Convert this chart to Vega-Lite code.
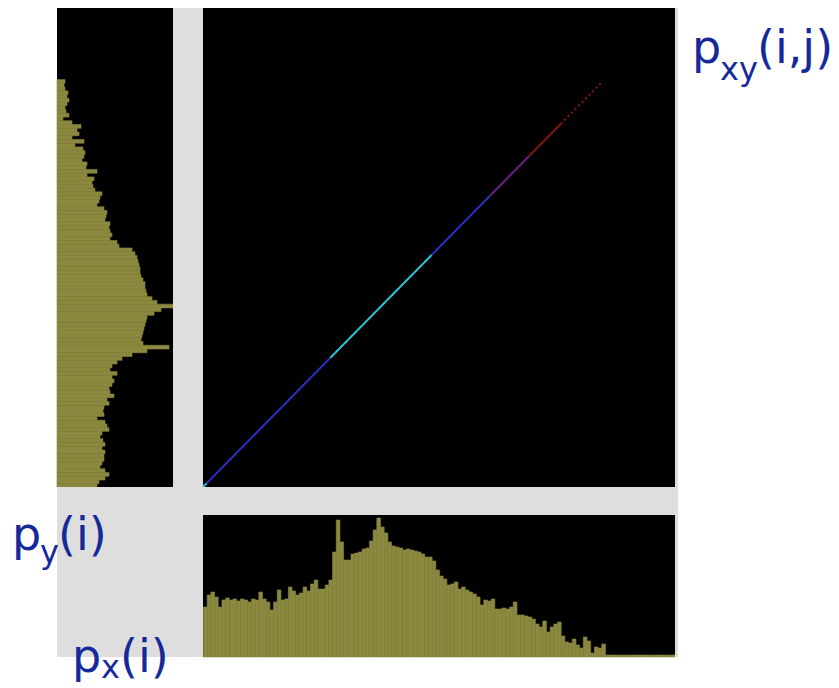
{
  "$schema": "https://vega.github.io/schema/vega-lite/v6.json",
  "background": "white",
  "padding": {"left": 12, "top": 8, "right": 0, "bottom": 12},
  "columns": 4,
  "spacing": 0,
  "bounds": "flush",
  "config": {"view": {"stroke": null}, "concat": {"spacing": 0}},
  "datasets": {
    "py": [
      {"j":0,"n":40},{"j":2,"n":42},{"j":4,"n":48},{"j":6,"n":52},{"j":8,"n":48},{"j":10,"n":43},{"j":12,"n":45},{"j":14,"n":47},
      {"j":16,"n":47},{"j":18,"n":48},{"j":20,"n":45},{"j":22,"n":48},{"j":24,"n":46},{"j":26,"n":43},{"j":28,"n":45},{"j":30,"n":52},
      {"j":32,"n":50},{"j":34,"n":48},{"j":36,"n":40},{"j":38,"n":47},{"j":40,"n":46},{"j":42,"n":47},{"j":44,"n":52},{"j":46,"n":50},
      {"j":48,"n":57},{"j":50,"n":53},{"j":52,"n":52},{"j":54,"n":55},{"j":56,"n":57},{"j":58,"n":55},{"j":60,"n":60},{"j":62,"n":53},
      {"j":64,"n":55},{"j":66,"n":60},{"j":68,"n":65},{"j":70,"n":75},{"j":72,"n":90},{"j":74,"n":112},{"j":76,"n":86},{"j":78,"n":84},
      {"j":80,"n":85},{"j":82,"n":86},{"j":84,"n":87},{"j":86,"n":88},{"j":88,"n":89},{"j":90,"n":90},{"j":92,"n":97},{"j":94,"n":104},
      {"j":96,"n":116},{"j":98,"n":100},{"j":100,"n":95},{"j":102,"n":90},{"j":104,"n":89},{"j":106,"n":88},{"j":108,"n":88},{"j":110,"n":86},
      {"j":112,"n":84},{"j":114,"n":83},{"j":116,"n":83},{"j":118,"n":82},{"j":120,"n":81},{"j":122,"n":80},{"j":124,"n":78},{"j":126,"n":75},
      {"j":128,"n":62},{"j":130,"n":60},{"j":132,"n":53},{"j":134,"n":55},{"j":136,"n":53},{"j":138,"n":52},{"j":140,"n":53},{"j":142,"n":48},
      {"j":144,"n":49},{"j":146,"n":50},{"j":148,"n":47},{"j":150,"n":40},{"j":152,"n":42},{"j":154,"n":43},{"j":156,"n":45},{"j":158,"n":38},
      {"j":160,"n":36},{"j":162,"n":35},{"j":164,"n":37},{"j":166,"n":30},{"j":168,"n":40},{"j":170,"n":29},{"j":172,"n":30},{"j":174,"n":25},
      {"j":176,"n":27},{"j":178,"n":28},{"j":180,"n":26},{"j":182,"n":18},{"j":184,"n":27},{"j":186,"n":15},{"j":188,"n":22},{"j":190,"n":20},
      {"j":192,"n":24},{"j":194,"n":15},{"j":196,"n":6},{"j":198,"n":12},{"j":200,"n":9},{"j":202,"n":8},{"j":204,"n":10},{"j":206,"n":12},
      {"j":208,"n":10},{"j":210,"n":11},{"j":212,"n":8},{"j":214,"n":7},{"j":216,"n":8}
    ],
    "px": [
      {"i":0,"n":50},{"i":2,"n":62},{"i":4,"n":65},{"i":6,"n":60},{"i":8,"n":50},{"i":10,"n":57},{"i":12,"n":59},{"i":14,"n":57},
      {"i":16,"n":58},{"i":18,"n":56},{"i":20,"n":58},{"i":22,"n":57},{"i":24,"n":55},{"i":26,"n":58},{"i":28,"n":57},{"i":30,"n":65},
      {"i":32,"n":58},{"i":34,"n":55},{"i":36,"n":47},{"i":38,"n":55},{"i":40,"n":67},{"i":42,"n":57},{"i":44,"n":58},{"i":46,"n":70},
      {"i":48,"n":66},{"i":50,"n":62},{"i":52,"n":64},{"i":54,"n":70},{"i":56,"n":66},{"i":58,"n":73},{"i":60,"n":77},{"i":62,"n":68},
      {"i":64,"n":68},{"i":66,"n":72},{"i":68,"n":77},{"i":70,"n":105},{"i":72,"n":137},{"i":74,"n":115},{"i":76,"n":97},{"i":78,"n":97},
      {"i":80,"n":103},{"i":82,"n":104},{"i":84,"n":105},{"i":86,"n":108},{"i":88,"n":109},{"i":90,"n":116},{"i":92,"n":127},{"i":94,"n":139},
      {"i":96,"n":130},{"i":98,"n":124},{"i":100,"n":115},{"i":102,"n":111},{"i":104,"n":110},{"i":106,"n":109},{"i":108,"n":107},{"i":110,"n":108},
      {"i":112,"n":107},{"i":114,"n":106},{"i":116,"n":105},{"i":118,"n":103},{"i":120,"n":100},{"i":122,"n":100},{"i":124,"n":96},{"i":126,"n":87},
      {"i":128,"n":81},{"i":130,"n":78},{"i":132,"n":72},{"i":134,"n":73},{"i":136,"n":75},{"i":138,"n":68},{"i":140,"n":70},{"i":142,"n":67},
      {"i":144,"n":65},{"i":146,"n":63},{"i":148,"n":60},{"i":150,"n":52},{"i":152,"n":57},{"i":154,"n":56},{"i":156,"n":58},{"i":158,"n":48},
      {"i":160,"n":48},{"i":162,"n":49},{"i":164,"n":48},{"i":166,"n":50},{"i":168,"n":55},{"i":170,"n":42},{"i":172,"n":42},{"i":174,"n":41},
      {"i":176,"n":40},{"i":178,"n":38},{"i":180,"n":33},{"i":182,"n":30},{"i":184,"n":36},{"i":186,"n":25},{"i":188,"n":30},{"i":190,"n":33},
      {"i":192,"n":35},{"i":194,"n":21},{"i":196,"n":15},{"i":198,"n":14},{"i":200,"n":18},{"i":202,"n":12},{"i":204,"n":9},{"i":206,"n":20},
      {"i":208,"n":16},{"i":210,"n":4},{"i":212,"n":10},{"i":214,"n":9},{"i":216,"n":13},{"i":218,"n":2},{"i":220,"n":2},{"i":222,"n":2},
      {"i":224,"n":2},{"i":226,"n":2},{"i":228,"n":2},{"i":230,"n":2},{"i":232,"n":2},{"i":234,"n":2},{"i":236,"n":2},{"i":238,"n":2},
      {"i":240,"n":2},{"i":242,"n":2},{"i":244,"n":2},{"i":246,"n":2},{"i":248,"n":2},{"i":250,"n":2},{"i":252,"n":2},{"i":254,"n":2}
    ],
    "diag": [
      {"i":0,"seg":1,"level":"high"},{"i":2,"seg":1,"level":"high"},
      {"i":2,"seg":2,"level":"medium"},{"i":69,"seg":2,"level":"medium"},
      {"i":69,"seg":3,"level":"high"},{"i":124,"seg":3,"level":"high"},
      {"i":124,"seg":4,"level":"medium"},{"i":156,"seg":4,"level":"medium"},
      {"i":156,"seg":5,"level":"low"},{"i":177,"seg":5,"level":"low"},
      {"i":177,"seg":6,"level":"very low"},{"i":194,"seg":6,"level":"very low"},
      {"i":194,"seg":7,"level":"sparse"},{"i":216,"seg":7,"level":"sparse"}
    ]
  },
  "concat": [
    {
      "width": 116, "height": 479,
      "view": {"fill": "black", "stroke": null},
      "data": {"name": "py"},
      "mark": {"type": "bar", "orient": "horizontal", "color": "#8b8840", "stroke": "#8b8840", "strokeWidth": 0.6, "binSpacing": 0},
      "encoding": {
        "y": {"field": "j", "type": "quantitative", "bin": {"binned": true, "step": 2}, "scale": {"domain": [0, 256], "nice": false, "zero": false}, "axis": null},
        "x": {"field": "n", "type": "quantitative", "scale": {"domain": [0, 116], "nice": false}, "axis": null}
      }
    },
    {
      "width": 30, "height": 479,
      "view": {"fill": "#dedede", "stroke": null},
      "data": {"values": [{}]},
      "mark": {"type": "text", "text": ""},
      "encoding": {}
    },
    {
      "width": 472, "height": 479,
      "view": {"fill": "black", "stroke": null},
      "layer": [
        {
          "data": {"name": "diag"},
          "mark": {"type": "line", "strokeWidth": 2},
          "encoding": {
            "x": {"field": "i", "type": "quantitative", "scale": {"domain": [0, 256], "nice": false}, "axis": null},
            "y": {"field": "i", "type": "quantitative", "scale": {"domain": [0, 256], "nice": false}, "axis": null},
            "detail": {"field": "seg", "type": "nominal"},
            "color": {"field": "level", "type": "nominal", "legend": null,
              "scale": {"domain": ["high", "medium", "low", "very low", "sparse"], "range": ["#2cc4d6", "#2b2fc4", "#6a2088", "#8b1515", "#8b1515"]}},
            "strokeDash": {"field": "level", "type": "nominal", "legend": null,
              "scale": {"domain": ["high", "medium", "low", "very low", "sparse"], "range": [[1, 0], [1, 0], [1, 0], [1, 0], [2, 3]]}}
          }
        },
        {
          "data": {"values": [{}]},
          "mark": {"type": "text", "text": "p", "font": "DejaVu Sans", "fontSize": 46, "color": "#16299b", "align": "left", "baseline": "alphabetic", "dx": 17, "dy": 55},
          "encoding": {"x": {"datum": 256, "type": "quantitative"}, "y": {"datum": 256, "type": "quantitative"}}
        },
        {
          "data": {"values": [{}]},
          "mark": {"type": "text", "text": "xy", "font": "DejaVu Sans", "fontSize": 32, "color": "#16299b", "align": "left", "baseline": "alphabetic", "dx": 45, "dy": 72},
          "encoding": {"x": {"datum": 256, "type": "quantitative"}, "y": {"datum": 256, "type": "quantitative"}}
        },
        {
          "data": {"values": [{}]},
          "mark": {"type": "text", "text": "(i,j)", "font": "DejaVu Sans", "fontSize": 46, "color": "#16299b", "align": "left", "baseline": "alphabetic", "dx": 82, "dy": 55},
          "encoding": {"x": {"datum": 256, "type": "quantitative"}, "y": {"datum": 256, "type": "quantitative"}}
        }
      ]
    },
    {
      "width": 3, "height": 479,
      "view": {"fill": "#dedede", "stroke": null},
      "data": {"values": [{}]},
      "mark": {"type": "text", "text": ""},
      "encoding": {}
    },
    {
      "width": 116, "height": 28,
      "view": {"fill": "#dedede", "stroke": null},
      "data": {"values": [{}]},
      "mark": {"type": "text", "text": ""},
      "encoding": {}
    },
    {
      "width": 30, "height": 28,
      "view": {"fill": "#dedede", "stroke": null},
      "data": {"values": [{}]},
      "mark": {"type": "text", "text": ""},
      "encoding": {}
    },
    {
      "width": 472, "height": 28,
      "view": {"fill": "#dedede", "stroke": null},
      "data": {"values": [{}]},
      "mark": {"type": "text", "text": ""},
      "encoding": {}
    },
    {
      "width": 3, "height": 28,
      "view": {"fill": "#dedede", "stroke": null},
      "data": {"values": [{}]},
      "mark": {"type": "text", "text": ""},
      "encoding": {}
    },
    {
      "width": 116, "height": 142,
      "view": {"fill": "#dedede", "stroke": null},
      "data": {"values": [{}]},
      "mark": {"type": "text", "text": ""},
      "encoding": {}
    },
    {
      "width": 30, "height": 142,
      "view": {"fill": "#dedede", "stroke": null},
      "data": {"values": [{}]},
      "mark": {"type": "text", "text": ""},
      "encoding": {}
    },
    {
      "width": 472, "height": 142,
      "view": {"fill": "black", "stroke": null},
      "layer": [
        {
          "data": {"name": "px"},
          "mark": {"type": "bar", "orient": "vertical", "color": "#8b8840", "stroke": "#8b8840", "strokeWidth": 0.6, "binSpacing": 0},
          "encoding": {
            "x": {"field": "i", "type": "quantitative", "bin": {"binned": true, "step": 2}, "scale": {"domain": [0, 256], "nice": false, "zero": false}, "axis": null},
            "y": {"field": "n", "type": "quantitative", "scale": {"domain": [0, 142], "nice": false}, "axis": null}
          }
        },
        {
          "data": {"values": [{}]},
          "mark": {"type": "text", "text": "p", "font": "DejaVu Sans", "fontSize": 46, "color": "#16299b", "align": "left", "baseline": "alphabetic", "dx": -191, "dy": 35},
          "encoding": {"x": {"datum": 0, "type": "quantitative"}, "y": {"datum": 142, "type": "quantitative"}}
        },
        {
          "data": {"values": [{}]},
          "mark": {"type": "text", "text": "y", "font": "DejaVu Sans", "fontSize": 32, "color": "#16299b", "align": "left", "baseline": "alphabetic", "dx": -163, "dy": 48},
          "encoding": {"x": {"datum": 0, "type": "quantitative"}, "y": {"datum": 142, "type": "quantitative"}}
        },
        {
          "data": {"values": [{}]},
          "mark": {"type": "text", "text": "(i)", "font": "DejaVu Sans", "fontSize": 46, "color": "#16299b", "align": "left", "baseline": "alphabetic", "dx": -145, "dy": 35},
          "encoding": {"x": {"datum": 0, "type": "quantitative"}, "y": {"datum": 142, "type": "quantitative"}}
        },
        {
          "data": {"values": [{}]},
          "mark": {"type": "text", "text": "p", "font": "DejaVu Sans", "fontSize": 46, "color": "#16299b", "align": "left", "baseline": "alphabetic", "dx": -131, "dy": 15},
          "encoding": {"x": {"datum": 0, "type": "quantitative"}, "y": {"datum": 0, "type": "quantitative"}}
        },
        {
          "data": {"values": [{}]},
          "mark": {"type": "text", "text": "x", "font": "DejaVu Sans", "fontSize": 32, "color": "#16299b", "align": "left", "baseline": "alphabetic", "dx": -102, "dy": 21},
          "encoding": {"x": {"datum": 0, "type": "quantitative"}, "y": {"datum": 0, "type": "quantitative"}}
        },
        {
          "data": {"values": [{}]},
          "mark": {"type": "text", "text": "(i)", "font": "DejaVu Sans", "fontSize": 46, "color": "#16299b", "align": "left", "baseline": "alphabetic", "dx": -83, "dy": 15},
          "encoding": {"x": {"datum": 0, "type": "quantitative"}, "y": {"datum": 0, "type": "quantitative"}}
        }
      ]
    },
    {
      "width": 3, "height": 142,
      "view": {"fill": "#dedede", "stroke": null},
      "data": {"values": [{}]},
      "mark": {"type": "text", "text": ""},
      "encoding": {}
    }
  ]
}
